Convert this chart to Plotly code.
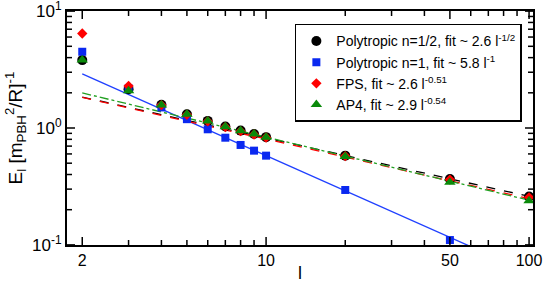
import numpy as np
import plotly.graph_objects as go

l_vals = [2, 3, 4, 5, 6, 7, 8, 9, 10, 20, 50, 100]
poly_half = [3.81, 2.15, 1.58, 1.31, 1.15, 1.03, 0.95, 0.89, 0.835, 0.58, 0.366, 0.259]
poly_one = [4.49, 2.18, 1.50, 1.19, 0.975, 0.826, 0.716, 0.64, 0.58, 0.295, 0.110, 0.058]
fps = [6.44, 2.29, 1.57, 1.30, 1.14, 1.02, 0.94, 0.88, 0.83, 0.575, 0.362, 0.255]
ap4 = [3.81, 2.08, 1.57, 1.31, 1.148, 1.026, 0.948, 0.888, 0.832, 0.569, 0.343, 0.238]

fit_names = ["Polytropic n=1/2, fit ~ 2.6 l<sup>-1/2</sup>",
             "Polytropic n=1, fit ~ 5.8 l<sup>-1</sup>",
             "FPS, fit ~ 2.6 l<sup>-0.51</sup>",
             "AP4, fit ~ 2.9 l<sup>-0.54</sup>"]
fit_amp = [2.6, 5.8, 2.6, 2.9]
fit_exp = [-0.5, -1.0, -0.51, -0.54]

x_major = [2, 10, 50, 100]
x_major_text = ["2", "10", "50", "100"]
x_minor = [3, 4, 5, 6, 7, 8, 9, 20, 30, 40, 60, 70, 80, 90]
y_major = [0.1, 1, 10]
y_major_text = ["10<sup>-1</sup>", "10<sup>0</sup>", "10<sup>1</sup>"]
y_minor = [0.2, 0.3, 0.4, 0.5, 0.6, 0.7, 0.8, 0.9, 2, 3, 4, 5, 6, 7, 8, 9]

colors = ["black", "#0a28f0", "#ff0000", "#0a8a0a"]
line_colors = ["black", "#2040ff", "#ff0000", "#22a022"]
dashes = ["dash", "solid", "dash", "dashdot"]
symbols = ["circle", "square", "diamond", "triangle-up"]
sizes = [10, 8, 8, 10]
series = [poly_half, poly_one, fps, ap4]

FONT = "Liberation Sans, Arial, sans-serif"
W, H = 545, 283
ML, MR, MT, MB = 67, 12, 11, 38
PW, PH = W - ML - MR, H - MT - MB
xr = [np.log10(1.75), np.log10(103.5)]
yr = [-1.001, 1.001]

x_fit = np.logspace(np.log10(2), np.log10(100), 100)

fig = go.Figure()
for i in range(4):
    fig.add_trace(go.Scatter(x=x_fit, y=fit_amp[i] * x_fit ** fit_exp[i], mode="lines",
                             line=dict(color=line_colors[i], width=1.3, dash=dashes[i]),
                             showlegend=False, hoverinfo="skip"))
for i in range(4):
    fig.add_trace(go.Scatter(x=l_vals, y=series[i], mode="markers", name=fit_names[i],
                             marker=dict(symbol=symbols[i], size=sizes[i], color=colors[i])))

# tick marks (inside, on all four sides) placed through the axis scales
tick_line = dict(color="black", width=1.5)
for vals, length in ((x_major, 8), (x_minor, 5)):
    f = length / PH
    for v in vals:
        fig.add_shape(type="line", xref="x", yref="y domain", x0=v, x1=v, y0=0, y1=f, line=tick_line)
        fig.add_shape(type="line", xref="x", yref="y domain", x0=v, x1=v, y0=1, y1=1 - f, line=tick_line)
for vals, length in ((y_major, 8), (y_minor, 5)):
    f = length / PW
    for v in vals:
        fig.add_shape(type="line", xref="x domain", yref="y", y0=v, y1=v, x0=0, x1=f, line=tick_line)
        fig.add_shape(type="line", xref="x domain", yref="y", y0=v, y1=v, x0=1, x1=1 - f, line=tick_line)

line_style = dict(showline=True, linecolor="black", linewidth=2, mirror=True,
                  showgrid=False, zeroline=False, automargin=False,
                  ticklabeloverflow="allow")

fig.update_layout(
    width=W, height=H,
    margin=dict(l=ML, r=MR, t=MT, b=MB),
    plot_bgcolor="white", paper_bgcolor="white",
    font=dict(family=FONT, color="black"),
    xaxis=dict(type="log", range=xr, tickmode="array", tickvals=x_major, ticktext=x_major_text,
               ticks="", tickfont=dict(family=FONT, size=16, color="black"),
               title=dict(text="l", font=dict(size=18), standoff=2),
               **line_style),
    yaxis=dict(type="log", range=yr, tickmode="array", tickvals=y_major, ticktext=y_major_text,
               ticks="", tickfont=dict(family=FONT, size=17, color="black"),
               title=dict(text="E<sub>l</sub> [m<sub>PBH</sub><sup>2</sup>/R]<sup>-1</sup>",
                          font=dict(size=19), standoff=4),
               **line_style),
    legend=dict(x=0.489, y=0.945, xanchor="left", yanchor="top",
                bgcolor="white", bordercolor="black", borderwidth=1.5,
                font=dict(family=FONT, size=14, color="black"),
                itemwidth=30, tracegroupgap=0),
    showlegend=True,
)

fig.write_html("out.html", config={"displayModeBar": False},
               post_script="document.body.style.margin='0';document.body.style.overflow='hidden';")
